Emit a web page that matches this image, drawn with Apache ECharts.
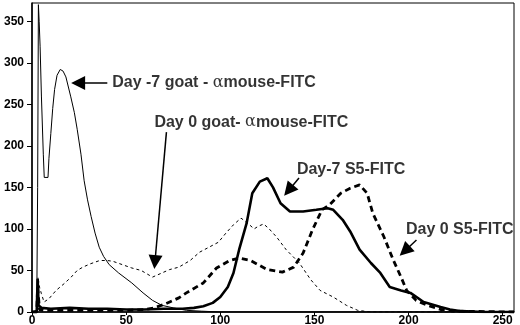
<!DOCTYPE html>
<html>
<head>
<meta charset="utf-8">
<script src="https://cdn.jsdelivr.net/npm/echarts@6/dist/echarts.min.js"></script>
<style>
  html, body { margin: 0; padding: 0; background: #fff; }
  #chart { width: 520px; height: 325px; }
</style>
</head>
<body>
<div id="chart"></div>
<script>
// channel (x) and event count (y)
var d7GoatX = [0, 2.5, 3.0, 3.4, 3.8, 4.3, 5.0, 6.0, 6.5, 8.5, 9.0, 10, 11, 12, 13.3, 15, 16.5, 18, 20.6, 22.5, 24, 26, 27.7, 29.5, 31.4, 33.5, 35.7, 38, 41, 46, 53, 59, 64, 69, 75, 82, 90, 100, 256];
var d7GoatY = [0, 2, 150, 370, 350, 320, 260, 190, 162, 162, 185, 215, 245, 268, 285, 292, 290, 283, 259, 240, 220, 190, 158, 135, 115, 95, 78, 67, 57, 47, 35, 23, 14, 8, 5, 2, 1, 0, 0];

var d0GoatX = [0, 2.5, 3.2, 4, 5, 6.4, 9, 12.8, 17, 20.8, 24, 27, 31, 36, 40, 43, 48, 53, 58, 64, 68, 73, 78, 84, 89, 94, 99, 103, 107, 111, 114, 118, 120, 123, 126, 130, 135, 142, 148, 153, 160, 167, 173, 180, 256];
var d0GoatY = [0, 0, 42, 30, 22, 12, 16, 26, 34, 42, 50, 54, 58, 62, 62, 61, 57, 53, 50, 42, 46, 51, 54, 62, 72, 78, 84, 95, 105, 113, 108, 100, 103, 106, 100, 90, 75, 59, 39, 26, 18, 8, 2, 0, 0];

var d7S5X = [0, 2.5, 3, 3.5, 5, 10, 20, 30, 40, 50, 60, 70, 80, 86, 91, 96, 100, 104, 107, 110, 114, 117, 121, 125, 128, 132, 137, 144, 151, 157, 160, 165, 169, 174, 180, 185, 190, 196, 201, 208, 217, 222, 228, 240, 256];
var d7S5Y = [0, 0, 40, 8, 5, 4, 5, 4, 4, 3, 3, 4, 4, 5, 7, 11, 18, 30, 47, 75, 107, 143, 157, 161, 150, 131, 121, 121, 123, 125, 123, 111, 97, 75, 59, 47, 30, 26, 23, 12, 6, 3, 1, 0, 0];

var d0S5X = [0, 2.5, 3, 4, 6, 10, 20, 30, 40, 50, 60, 65, 71, 78, 82, 91, 98, 105, 110, 116, 125, 133, 139, 144, 149, 154, 158, 164, 169, 174, 178, 181, 187, 192, 196, 199, 204, 210, 217, 225, 256];
var d0S5Y = [0, 0, 30, 3, 2, 2, 2, 2, 2, 2, 3, 5, 10, 17, 23, 35, 53, 62, 65, 62, 51, 48, 54, 71, 99, 123, 129, 143, 149, 153, 143, 119, 90, 62, 42, 26, 14, 8, 3, 1, 0];

// annotations: label anchor, arrow tail and arrow head (data units)
var noteLabels = ['Day -7 goat - |α|mouse-FITC', 'Day 0 goat- |α|mouse-FITC', 'Day-7 S5-FITC', 'Day 0 S5-FITC'];
var noteAt = [[42.6, 275.6], [65, 228.6], [140.7, 170.9], [198.6, 98.7]];
var arrowFrom = [[40, 275.6], [71.4, 216.6], [141.8, 161.3], [204.2, 86.6]];
var arrowTo = [[24.5, 275.6], [65.3, 60.2], [136.3, 146.3], [198, 73.5]];

function pairs(xs, ys) {
    return xs.map(function (x, i) { return [x, ys[i]]; });
}

var ink = '#000';
var myChart = echarts.init(document.getElementById('chart'));

var option = {
    animation: false,
    backgroundColor: '#fff',
    grid: {
        left: 32,
        right: 6,
        top: 3,
        bottom: 13,
        outerBoundsMode: 'none',
        show: true,
        borderColor: ink,
        borderWidth: 1
    },
    xAxis: {
        type: 'value',
        min: 0,
        max: 256,
        interval: 50,
        splitLine: { show: false },
        axisLine: { lineStyle: { color: ink, width: 1.5 } },
        axisTick: { length: 3, lineStyle: { color: ink } },
        axisLabel: {
            showMaxLabel: false,
            margin: 3,
            color: ink,
            fontFamily: 'Liberation Sans',
            fontWeight: 'bold',
            fontSize: 12
        }
    },
    yAxis: {
        type: 'value',
        min: 0,
        max: 372,
        interval: 50,
        splitLine: { show: false },
        axisLine: { show: true, lineStyle: { color: ink, width: 1.5 } },
        axisTick: { show: true, length: 5, lineStyle: { color: ink } },
        axisLabel: {
            showMaxLabel: false,
            margin: 8,
            color: ink,
            fontFamily: 'Liberation Sans',
            fontWeight: 'bold',
            fontSize: 12
        }
    },
    series: [{
        name: 'Day -7 goat',
        type: 'line',
        data: pairs(d7GoatX, d7GoatY),
        showSymbol: false,
        lineStyle: { color: ink, width: 1 }
    }, {
        name: 'Day 0 goat',
        type: 'line',
        data: pairs(d0GoatX, d0GoatY),
        showSymbol: false,
        lineStyle: { color: ink, width: 1, type: [3, 3] }
    }, {
        name: 'Day-7 S5',
        type: 'line',
        data: pairs(d7S5X, d7S5Y),
        showSymbol: false,
        lineStyle: { color: ink, width: 2.6 }
    }, {
        name: 'Day 0 S5',
        type: 'line',
        data: pairs(d0S5X, d0S5Y),
        showSymbol: false,
        lineStyle: { color: ink, width: 2.8, type: [6, 4] }
    }, {
        name: 'arrows',
        type: 'line',
        data: [],
        markLine: {
            silent: true,
            symbol: ['none', 'triangle'],
            symbolSize: 14,
            label: { show: false },
            itemStyle: { color: ink },
            lineStyle: { color: ink, width: 1.5, type: 'solid' },
            data: arrowFrom.map(function (f, i) {
                return [{ coord: f }, { coord: arrowTo[i] }];
            })
        }
    }, {
        name: 'notes',
        type: 'scatter',
        symbolSize: 0,
        data: noteAt,
        label: {
            show: true,
            position: 'right',
            distance: 0,
            formatter: function (p) {
                var parts = noteLabels[p.dataIndex].split('|');
                if (parts.length === 1) return '{b|' + parts[0] + '}';
                return '{b|' + parts[0] + '}{a|' + parts[1] + '}{b|' + parts[2] + '}';
            },
            rich: {
                b: { fontFamily: 'Liberation Sans', fontWeight: 'bold', fontSize: 16, color: ink },
                a: { fontFamily: 'DejaVu Serif', fontSize: 16, color: ink }
            }
        }
    }]
};

myChart.setOption(option);
</script>
</body>
</html>
